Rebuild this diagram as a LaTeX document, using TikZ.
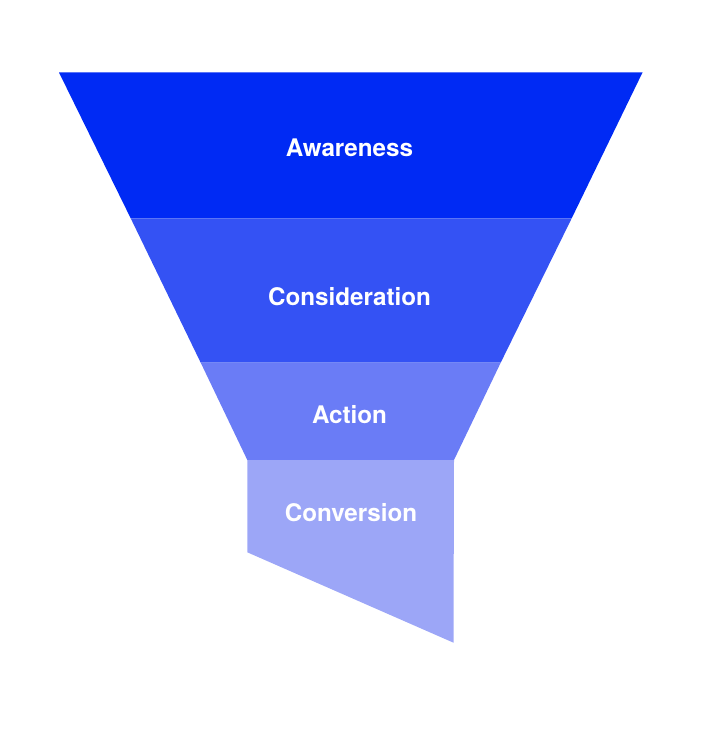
\documentclass[tikz,border=0pt]{standalone}
\usepackage{fontspec}
\setmainfont{TeX Gyre Heros}
\newlength{\du}
\setlength{\du}{1bp}
\definecolor{awarecolor}{RGB}{0,42,244}
\definecolor{considercolor}{RGB}{52,82,244}
\definecolor{actioncolor}{RGB}{106,124,246}
\definecolor{convertcolor}{RGB}{156,166,247}
\tikzset{stagelabel/.style={text=white,font=\bfseries\fontsize{24.3}{28}\selectfont,inner sep=0pt}}
\begin{document}
\begin{tikzpicture}
\pgftransformxscale{1.000000}
\pgftransformyscale{-1.000000}
\useasboundingbox (0\du,0\du) rectangle (706\du,732\du);
% awareness band
\fill[awarecolor] (59.000000\du,72.500000\du)--(642.500000\du,72.500000\du)--(571.700000\du,218.300000\du)--(130.700000\du,218.300000\du)--cycle;
% consideration band
\fill[considercolor] (130.700000\du,218.300000\du)--(571.700000\du,218.300000\du)--(500.700000\du,362.700000\du)--(200.700000\du,362.700000\du)--cycle;
% action band
\fill[actioncolor] (200.700000\du,362.700000\du)--(500.700000\du,362.700000\du)--(454.000000\du,460.000000\du)--(247.300000\du,460.000000\du)--cycle;
% conversion band
\fill[convertcolor] (247.300000\du,460.000000\du)--(454.000000\du,460.000000\du)--(453.500000\du,642.700000\du)--(247.300000\du,552.300000\du)--cycle;
\node[stagelabel] (awareness) at (349.500000\du,148.000000\du){Awareness};
\node[stagelabel] (consideration) at (349.500000\du,297.000000\du){Consideration};
\node[stagelabel] (action) at (349.500000\du,415.000000\du){Action};
\node[stagelabel] (conversion) at (351.000000\du,513.000000\du){Conversion};
\end{tikzpicture}
\end{document}
